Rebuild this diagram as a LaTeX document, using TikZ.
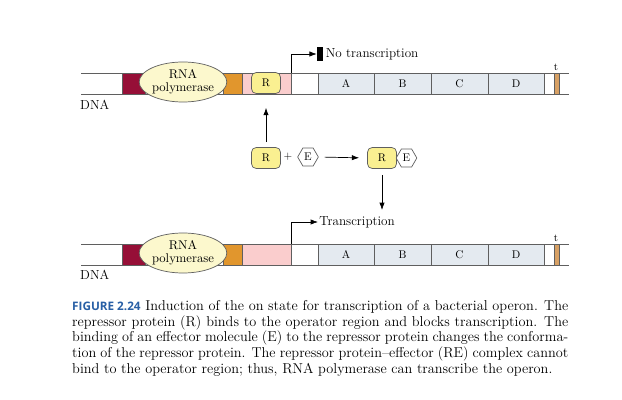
\documentclass[tikz,border=0pt]{standalone}
\usepackage{fontspec}
\newfontfamily\capfont{Open Sans}
\usetikzlibrary{arrows.meta,shapes.geometric}
\definecolor{dnared}{RGB}{150,15,55}
\definecolor{oporange}{RGB}{225,150,45}
\definecolor{oppink}{RGB}{250,205,205}
\definecolor{genegray}{RGB}{228,234,240}
\definecolor{termtan}{RGB}{215,160,100}
\definecolor{repyellow}{RGB}{250,240,145}
\definecolor{polyellow}{RGB}{252,248,205}
\definecolor{capblue}{RGB}{40,95,165}
\definecolor{linegray}{RGB}{95,95,95}
\tikzset{
  seg/.style={draw=linegray, line width=0.6pt},
  polym/.style={ellipse, draw=linegray, line width=0.6pt, fill=polyellow,
    minimum width=2.46cm, minimum height=1.2cm, inner sep=0pt, align=center,
    font=\fontsize{10.8}{11}\selectfont},
  repbox/.style={rectangle, rounded corners=4pt, draw=linegray, line width=0.6pt,
    fill=repyellow, minimum width=0.87cm, minimum height=0.63cm, inner sep=0pt,
    font=\fontsize{9.5}{10}\selectfont},
  effbox/.style={regular polygon, regular polygon sides=6, draw=linegray,
    line width=0.6pt, fill=white, minimum size=0.62cm, inner sep=0pt,
    font=\fontsize{9.5}{10}\selectfont},
  arw/.style={-{Latex[length=2.2mm,width=1.6mm]}, line width=0.6pt}
}
\begin{document}
\begin{tikzpicture}[x=0.03cm, y=-0.03cm, font=\fontsize{11.2}{12}\selectfont]
\useasboundingbox (0,0) rectangle (622,400);

% the two DNA strands
\foreach \y in {73,244} {
  \draw[seg] (81,\y) -- (569,\y) (81,\y+21) -- (569,\y+21);
  \draw[seg, fill=dnared] (122,\y) rectangle (145,\y+21);
  \draw[seg, fill=oporange] (223,\y) rectangle (242,\y+21);
  \draw[seg, fill=oppink] (242,\y) rectangle (291,\y+21);
  \foreach \a/\b/\g in {318/374/A, 374/431/B, 431/488/C, 488/544/D}
    \draw[seg, fill=genegray] (\a,\y) rectangle (\b,\y+21)
      node[midway, font=\fontsize{9.5}{10}\selectfont] {\g};
  \draw[seg, fill=termtan] (554,\y) rectangle (559,\y+21);
  \node[font=\fontsize{9}{9}\selectfont] at (556,\y-6) {t};
}

\node[polym] (pol1) at (183,82) {RNA\\polymerase};
\node[polym] (pol2) at (183,253) {RNA\\polymerase};
\node[anchor=west, inner sep=0pt] (dna1) at (80,105) {DNA};
\node[anchor=west, inner sep=0pt] (dna2) at (80,275) {DNA};

% repressor on the operator
\node[repbox] (rbound) at (266,83) {R};

% no transcription
\coordinate (prom1) at (291,73);
\node[fill=black, minimum width=0.18cm, minimum height=0.42cm, inner sep=0pt] (stopbar) at (320,54) {};
\node[anchor=west, inner sep=2pt] (notx) at (stopbar.east) {No transcription};
\draw[arw] (prom1) |- (stopbar.west);

% repressor + effector
\node[repbox] (rfree) at (266,158) {R};
\node[font=\fontsize{9.5}{10}\selectfont] (plus) at (288,157) {+};
\node[effbox] (efree) at (308,157) {E};
\node[repbox] (rcomp) at (382,158) {R};
\node[effbox] (ecomp) at (406.5,158) {E};
\draw[arw, shorten <=0.15cm, shorten >=0.42cm] (rfree.north) -- (rbound.south);
\draw[arw, shorten <=0.18cm, shorten >=0.24cm] (efree.east) -- (rcomp.west);
\coordinate (down) at (382,210);
\draw[arw, shorten <=0.18cm] (rcomp.south) -- (down);

% transcription
\coordinate (prom2) at (291,244);
\node[anchor=west, inner sep=1pt] (tx) at (318,222) {Transcription};
\draw[arw] (prom2) |- (tx.west);

% caption
\node[anchor=north west, text width=14.88cm, align=justify, inner sep=0pt,
  font=\fontsize{12.2}{13.5}\selectfont] (cap) at (72,300) {%
{\capfont\bfseries\fontsize{10}{10}\selectfont\color{capblue}FIGURE 2.24} Induction of the on state for transcription of a bacterial operon. The\linebreak
repressor protein (R) binds to the operator region and blocks transcription. The\linebreak
binding of an effector molecule (E) to the repressor protein changes the conforma-\linebreak
tion of the repressor protein. The repressor protein--effector (RE) complex cannot\linebreak
bind to the operator region; thus, RNA polymerase can transcribe the operon.};
\end{tikzpicture}
\end{document}
